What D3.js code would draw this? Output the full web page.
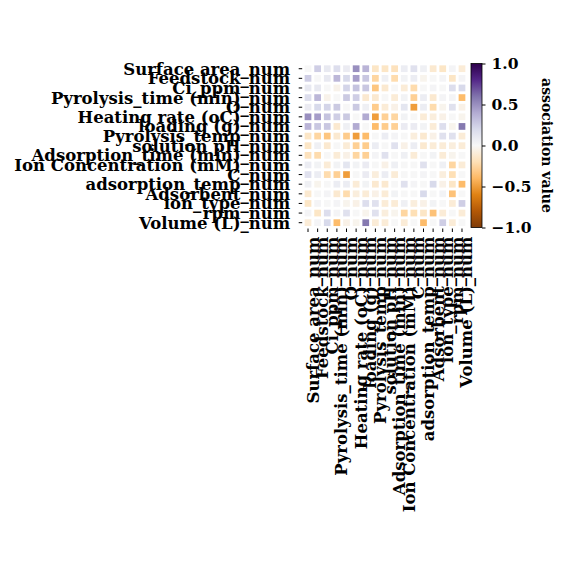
<!DOCTYPE html>
<html><head><meta charset="utf-8">
<script src="https://cdn.jsdelivr.net/npm/d3@7"></script>
<style>body{margin:0;background:#fff}</style>
</head><body>
<script>
const labels = ["Surface area_num","Feedstock_num","Ci_ppm_num","Pyrolysis_time (min)_num","O_num",
  "Heating rate (oC)_num","loading (g)_num","Pyrolysis_temp_num","solution pH_num","Adsorption_time (min)_num",
  "Ion Concentration (mM)_num","C_num","adsorption_temp_num","Adsorbent_num","ion_type_num","rpm_num","Volume (L)_num"];
const values = [
  [0, .25, .1, .17, .08, .5, .36, -.15, -.15, -.18, .07, .15, .05, -.12, -.15, .02, -.1],
  [.25, 0, .1, .35, .2, .45, .28, -.25, .05, -.22, .03, .07, -.03, 0, .02, -.15, .02],
  [.1, .1, 0, -.04, .22, .3, .28, -.33, -.12, 0, -.1, -.22, 0, .02, 0, .17, .2],
  [.17, .35, -.04, 0, .27, .25, -.12, -.12, 0, -.1, .03, -.28, .07, -.12, .02, .02, -.38],
  [.08, .2, .22, .27, 0, .27, .05, -.3, -.1, -.05, .12, -.5, .07, -.22, -.03, .15, -.05],
  [.5, .45, .3, .25, .27, 0, .4, -.5, -.28, -.25, .03, 0, -.1, -.08, -.05, 0, -.03],
  [.36, .28, .28, -.12, .05, .4, 0, -.38, -.3, -.28, .08, .08, .03, -.1, .17, -.03, .58],
  [-.15, -.25, -.33, -.12, -.3, -.5, -.38, 0, .07, .02, 0, -.08, -.12, -.05, .15, .15, -.1],
  [-.15, .05, -.12, 0, -.1, -.28, -.3, .07, 0, .15, -.05, .07, -.12, -.1, -.1, -.08, -.1],
  [-.18, -.22, 0, -.1, -.05, -.25, -.28, .02, .15, 0, .05, -.1, 0, .03, -.1, -.03, 0],
  [.07, .03, -.1, .03, .12, .03, .08, 0, -.05, .05, 0, 0, .15, 0, .05, -.25, -.1],
  [.15, .07, -.22, -.28, -.5, 0, .08, -.08, .07, -.1, 0, 0, .02, 0, -.08, -.2, 0],
  [.05, -.03, 0, .07, .07, -.1, .03, -.12, -.12, 0, .15, .02, 0, .2, -.05, -.15, -.38],
  [-.12, 0, .02, -.12, -.22, -.08, -.1, -.05, -.1, .03, 0, 0, .2, 0, .03, -.35, 0],
  [-.15, .02, 0, .02, -.03, -.05, .17, .15, -.1, -.1, .05, -.08, -.05, .03, 0, -.1, .25],
  [.02, -.15, .17, .02, .15, 0, -.03, .15, -.08, -.03, -.25, -.2, -.15, -.35, -.1, 0, -.1],
  [-.1, .02, .2, -.38, -.05, -.03, .58, -.1, -.1, 0, -.1, 0, -.38, 0, .25, -.1, 0]
];
const cbTicks = [1.0, 0.5, 0.0, -0.5, -1.0];
const cbLabel = "association value";
const puorStops = ["#7f3b08","#b35806","#e08214","#fdb863","#fee0b6","#f7f7f7","#d8daeb","#b2abd2","#8073ac","#542788","#2d004b"];

const W = 566, H = 566;
const FONT = "'DejaVu Serif', serif";
const FS = 16.5;
const svg = d3.select("body").append("svg").attr("width", W).attr("height", H)
  .style("font-family", FONT).style("font-weight", "bold");

const hm = {x0: 303.2, y0: 63.9, size: 163.6};
const idx = d3.range(labels.length);
const x = d3.scaleBand().domain(idx).range([hm.x0, hm.x0 + hm.size]);
const y = d3.scaleBand().domain(idx).range([hm.y0, hm.y0 + hm.size]);
const color = d3.scaleLinear()
  .domain(d3.range(11).map(i => -1 + i * 0.2))
  .range(puorStops).interpolate(d3.interpolateRgb).clamp(true);

const gap = 2.9;
const cells = [];
values.forEach((row, i) => row.forEach((v, j) => cells.push({i, j, v})));
svg.append("g").selectAll("rect").data(cells).join("rect")
  .attr("x", d => x(d.j) + gap / 2)
  .attr("y", d => y(d.i) + gap / 2)
  .attr("width", x.bandwidth() - gap)
  .attr("height", y.bandwidth() - gap)
  .attr("fill", d => color(d.v));

// y axis
const yAxis = svg.append("g").attr("transform", `translate(${hm.x0 - 1},0)`)
  .call(d3.axisLeft(y).tickSize(3.5).tickPadding(8.5).tickFormat(i => labels[i]));
yAxis.select(".domain").remove();
yAxis.selectAll(".tick line").attr("stroke", "#000").attr("stroke-width", 1);
yAxis.selectAll(".tick text").attr("font-family", FONT).attr("font-weight", "bold")
  .attr("font-size", FS).attr("fill", "#000").attr("dy", "0.36em");

// x axis
const xAxis = svg.append("g").attr("transform", `translate(0,${hm.y0 + hm.size + 1})`)
  .call(d3.axisBottom(x).tickSize(3.5).tickFormat(i => labels[i]));
xAxis.select(".domain").remove();
xAxis.selectAll(".tick line").attr("stroke", "#000").attr("stroke-width", 1);
xAxis.selectAll(".tick text").attr("font-family", FONT).attr("font-weight", "bold")
  .attr("font-size", FS).attr("fill", "#000")
  .attr("text-anchor", "end").attr("y", 0).attr("dy", 10.5)
  .attr("transform", "translate(0,8) rotate(-90)");

// colorbar
const cb = {x: 471, w: 11, y0: 63.5, y1: 227.5};
const cbScale = d3.scaleLinear().domain([-1, 1]).range([cb.y1, cb.y0]);
const defs = svg.append("defs");
const grad = defs.append("linearGradient").attr("id", "cbgrad")
  .attr("x1", 0).attr("y1", 1).attr("x2", 0).attr("y2", 0);
grad.selectAll("stop").data(d3.range(0, 1.0001, 0.05)).join("stop")
  .attr("offset", t => t).attr("stop-color", t => color(-1 + 2 * t));
svg.append("rect").attr("x", cb.x).attr("y", cb.y0).attr("width", cb.w)
  .attr("height", cb.y1 - cb.y0).attr("fill", "url(#cbgrad)")
  .attr("stroke", "#000").attr("stroke-width", 0.8);
const cbAxis = svg.append("g").attr("transform", `translate(${cb.x + cb.w},0)`)
  .call(d3.axisRight(cbScale).tickValues(cbTicks).tickSize(3.5).tickPadding(6)
    .tickFormat(v => d3.format(".1f")(v).replace("-", "\u2212")));
cbAxis.select(".domain").remove();
cbAxis.selectAll(".tick line").attr("stroke", "#000").attr("stroke-width", 1);
cbAxis.selectAll(".tick text").attr("font-family", FONT).attr("font-weight", "bold")
  .attr("font-size", 15.5).attr("fill", "#000");

svg.append("text").attr("transform", `translate(542,${(cb.y0 + cb.y1) / 2}) rotate(90)`)
  .attr("text-anchor", "middle").attr("font-size", 14).attr("font-weight", "bold")
  .attr("font-family", FONT).attr("fill", "#000").text(cbLabel);
</script>
</body></html>
